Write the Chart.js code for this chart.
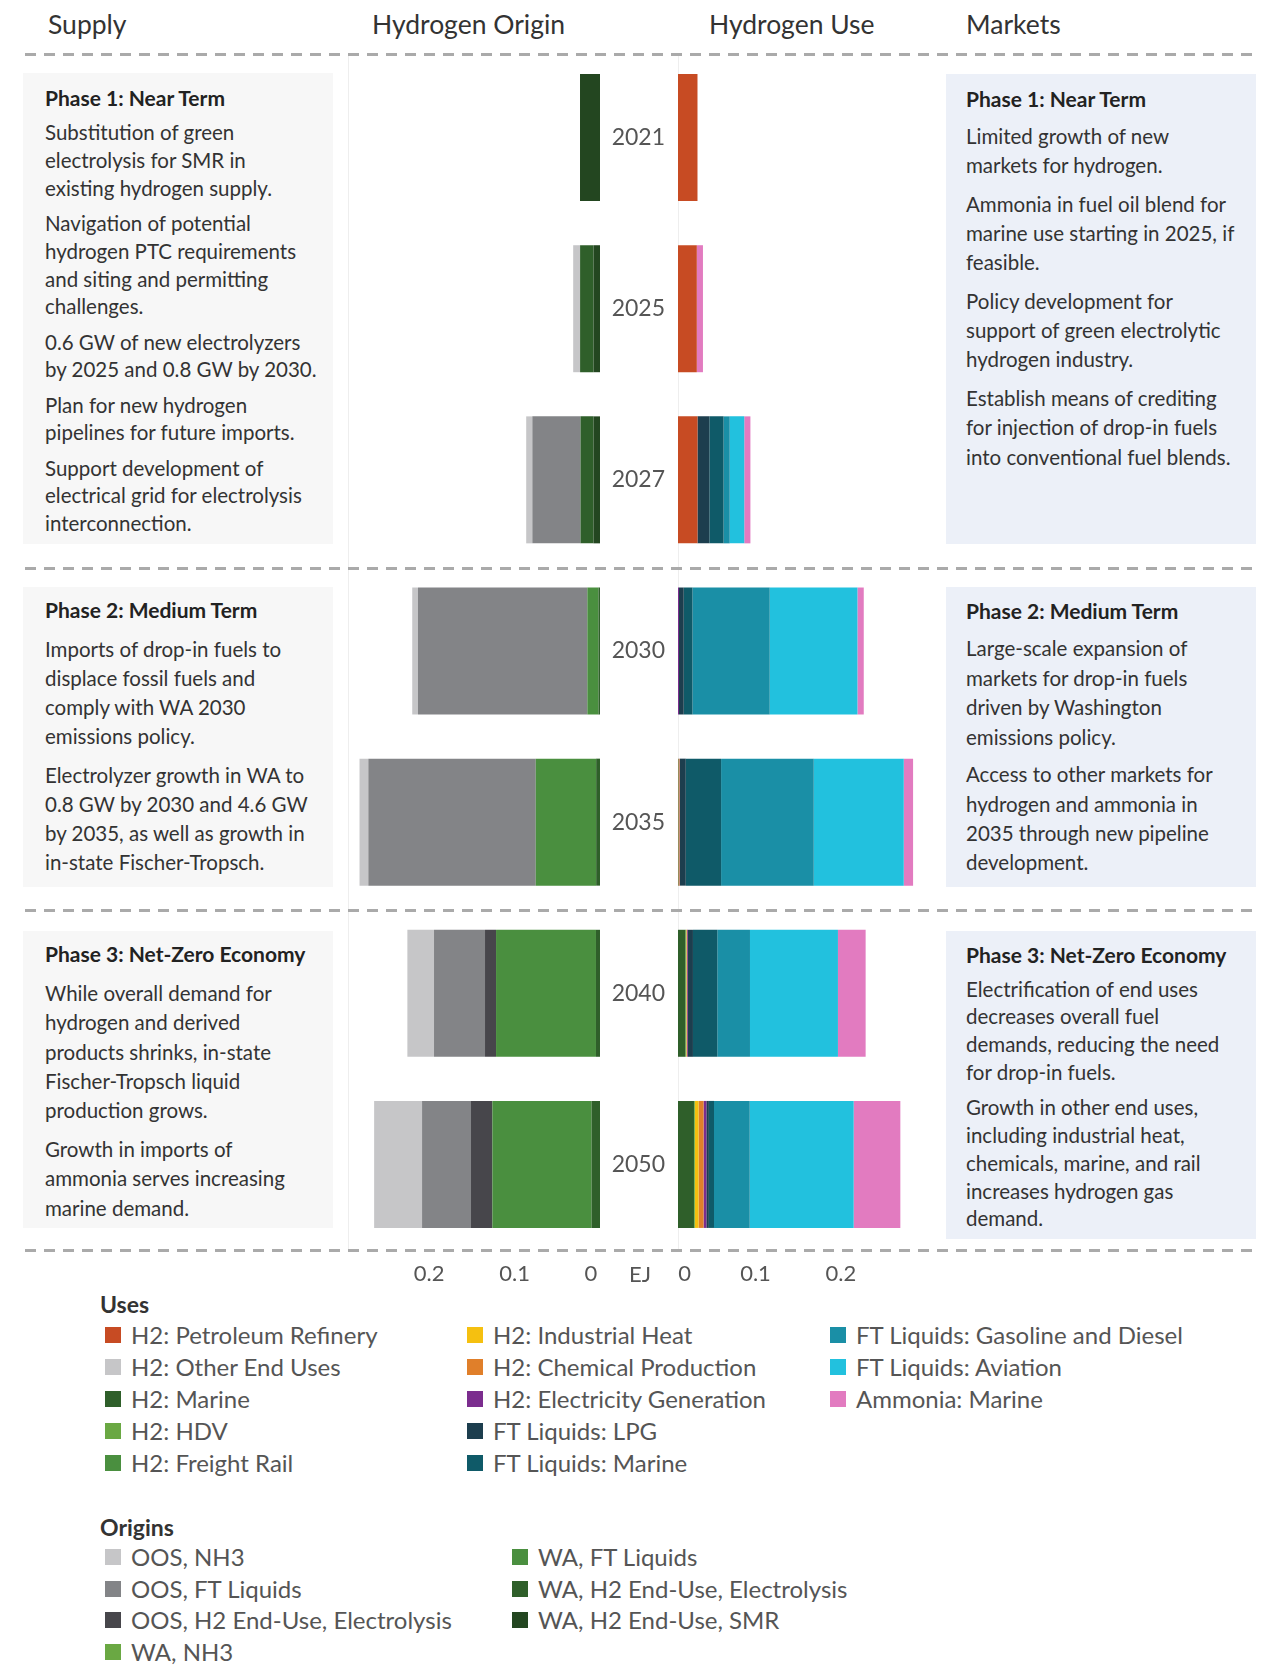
<!DOCTYPE html>
<html>
<head>
<meta charset="utf-8">
<title>Hydrogen Origin and Use</title>
<script src="https://cdn.jsdelivr.net/npm/chart.js@4.4.1/dist/chart.umd.min.js"></script>
<style>
  body { margin: 0; background: #fff; font-family: Lato, sans-serif; color: #333; }
  #page { position: relative; width: 1280px; height: 1679px; overflow: hidden; }
  .head { position: absolute; top: 6.5px; font-size: 26.5px; line-height: 34px; color: #333; white-space: nowrap; }
  .dash { position: absolute; left: 25px; width: 1228px; height: 3px;
          background: repeating-linear-gradient(90deg, #aaa 0 11px, transparent 11px 19px); }
  .vline { position: absolute; top: 53px; height: 1197px; width: 1px; background: #eeeeee; }
  .box { position: absolute; }
  .box.left { left: 23px; width: 310px; background: #f7f7f7; }
  .box.right { left: 946px; width: 310px; background: #ecf0f8; }
  .box h3 { position: absolute; left: 22px; margin: 0; font-size: 21px; line-height: 26px; font-weight: 700; color: #222; white-space: nowrap; }
  .box.right h3 { left: 20px; }
  .box .body { position: absolute; left: 22px; font-size: 20.5px; color: #333; white-space: nowrap; }
  .box.right .body { left: 20px; }
  .box p { margin: 0; }
  canvas { position: absolute; }
  #ej { position: absolute; left: 615px; width: 50px; top: 1261px; text-align: center; font-size: 22px; line-height: 26px; color: #555; }
  .ltitle { position: absolute; left: 100px; font-size: 23px; line-height: 26px; font-weight: 700; color: #333; }
  .item { position: absolute; font-size: 24px; line-height: 26px; color: #555; white-space: nowrap; }
  .item i { position: absolute; left: 0; top: 5px; width: 16px; height: 16px; }
  .item span { position: absolute; left: 26px; top: 0; }
</style>
</head>
<body>
<div id="page">
  <div class="head" style="left:48px">Supply</div>
  <div class="head" style="left:372px">Hydrogen Origin</div>
  <div class="head" style="left:709px">Hydrogen Use</div>
  <div class="head" style="left:966px">Markets</div>

  <div class="vline" style="left:348px"></div>
  <div class="vline" style="left:678px"></div>

  <!-- Supply -->
  <div class="box left" style="top:73px;height:471px">
    <h3 style="top:12px">Phase 1: Near Term</h3>
    <div class="body" style="top:46.2px;line-height:27.8px">
      <p>Substitution of green<br>electrolysis for SMR in<br>existing hydrogen supply.</p>
      <p style="margin-top:7.4px">Navigation of potential<br>hydrogen PTC requirements<br>and siting and permitting<br>challenges.</p>
      <p style="margin-top:7.4px">0.6 GW of new electrolyzers<br>by 2025 and 0.8 GW by 2030.</p>
      <p style="margin-top:7.4px">Plan for new hydrogen<br>pipelines for future imports.</p>
      <p style="margin-top:7.4px">Support development of<br>electrical grid for electrolysis<br>interconnection.</p>
    </div>
  </div>
  <div class="box left" style="top:587px;height:300px">
    <h3 style="top:10px">Phase 2: Medium Term</h3>
    <div class="body" style="top:47.5px;line-height:29.1px">
      <p>Imports of drop-in fuels to<br>displace fossil fuels and<br>comply with WA 2030<br>emissions policy.</p>
      <p style="margin-top:10px">Electrolyzer growth in WA to<br>0.8 GW by 2030 and 4.6 GW<br>by 2035, as well as growth in<br>in-state Fischer-Tropsch.</p>
    </div>
  </div>
  <div class="box left" style="top:930.5px;height:297.5px">
    <h3 style="top:10.5px">Phase 3: Net-Zero Economy</h3>
    <div class="body" style="top:48.5px;line-height:29.3px">
      <p>While overall demand for<br>hydrogen and derived<br>products shrinks, in-state<br>Fischer-Tropsch liquid<br>production grows.</p>
      <p style="margin-top:9.6px">Growth in imports of<br>ammonia serves increasing<br>marine demand.</p>
    </div>
  </div>

  <!-- Markets -->
  <div class="box right" style="top:74px;height:470px">
    <h3 style="top:12px">Phase 1: Near Term</h3>
    <div class="body" style="top:47.8px;line-height:29.2px">
      <p>Limited growth of new<br>markets for hydrogen.</p>
      <p style="margin-top:9.7px">Ammonia in fuel oil blend for<br>marine use starting in 2025, if<br>feasible.</p>
      <p style="margin-top:9.4px">Policy development for<br>support of green electrolytic<br>hydrogen industry.</p>
      <p style="margin-top:9.7px">Establish means of crediting<br>for injection of drop-in fuels<br>into conventional fuel blends.</p>
    </div>
  </div>
  <div class="box right" style="top:587px;height:300px">
    <h3 style="top:11px">Phase 2: Medium Term</h3>
    <div class="body" style="top:47.3px;line-height:29.4px">
      <p>Large-scale expansion of<br>markets for drop-in fuels<br>driven by Washington<br>emissions policy.</p>
      <p style="margin-top:8.2px">Access to other markets for<br>hydrogen and ammonia in<br>2035 through new pipeline<br>development.</p>
    </div>
  </div>
  <div class="box right" style="top:930.5px;height:308.5px">
    <h3 style="top:11.5px">Phase 3: Net-Zero Economy</h3>
    <div class="body" style="top:45px;line-height:27.8px">
      <p>Electrification of end uses<br>decreases overall fuel<br>demands, reducing the need<br>for drop-in fuels.</p>
      <p style="margin-top:7.6px">Growth in other end uses,<br>including industrial heat,<br>chemicals, marine, and rail<br>increases hydrogen gas<br>demand.</p>
    </div>
  </div>

  <div class="dash" style="top:52.5px"></div>
  <div class="dash" style="top:566.5px"></div>
  <div class="dash" style="top:909px"></div>
  <div class="dash" style="top:1248.5px"></div>

  <canvas id="originChart" width="292" height="1243" style="left:328px;top:52px"></canvas>
  <canvas id="useChart" width="365" height="1243" style="left:598px;top:52px"></canvas>
  <div id="ej">EJ</div>

  <div class="ltitle" style="top:1291px">Uses</div>
  <div id="useLegend"></div>
  <div class="ltitle" style="top:1514px">Origins</div>
  <div id="originLegend"></div>
</div>

<script>
const years = ['2021', '2025', '2027', '2030', '2035', '2040', '2050'];
const tickValues = [0, 0.1, 0.2];

// Hydrogen use by end use, EJ (one value per year)
const useNames = ['H2: Petroleum Refinery', 'H2: Other End Uses', 'H2: Marine', 'H2: HDV', 'H2: Freight Rail',
  'H2: Industrial Heat', 'H2: Chemical Production', 'H2: Electricity Generation', 'FT Liquids: LPG', 'FT Liquids: Marine',
  'FT Liquids: Gasoline and Diesel', 'FT Liquids: Aviation', 'Ammonia: Marine'];
const useColors = ['#c74b23', '#c6c6c8', '#2f5f2a', '#6aa843', '#4a8f3f', '#f5c010', '#e07f2a', '#7b2d8e',
  '#1d3e4e', '#0f5a68', '#1a8fa6', '#22c1de', '#e27bc0'];
const petroleumRefinery = [0.0228, 0.022, 0.0228, 0, 0, 0, 0];
const otherEndUses      = [0, 0, 0, 0, 0, 0, 0];
const h2Marine          = [0, 0, 0, 0, 0.0005, 0.0086, 0.0187];
const hdv               = [0, 0, 0, 0, 0, 0.0010, 0.0010];
const freightRail       = [0, 0, 0, 0, 0, 0, 0];
const industrialHeat    = [0, 0, 0, 0, 0, 0.0005, 0.0044];
const chemical          = [0, 0, 0, 0, 0.0012, 0.0006, 0.0058];
const electricity       = [0, 0, 0, 0.0012, 0.0004, 0.0010, 0.0033];
const ftLpg             = [0, 0, 0.0139, 0.0055, 0.0070, 0.0058, 0.0029];
const ftMarine          = [0, 0, 0.0166, 0.0102, 0.0413, 0.0285, 0.0060];
const ftGasDiesel       = [0, 0, 0.0072, 0.0904, 0.1084, 0.0382, 0.0418];
const ftAviation        = [0, 0, 0.0170, 0.1026, 0.1053, 0.1029, 0.1216];
const ammoniaMarine     = [0, 0.0072, 0.0072, 0.0074, 0.0109, 0.0324, 0.0546];
const useSeries = [petroleumRefinery, otherEndUses, h2Marine, hdv, freightRail, industrialHeat, chemical,
  electricity, ftLpg, ftMarine, ftGasDiesel, ftAviation, ammoniaMarine];

// Hydrogen origin, EJ
const originNames = ['OOS, NH3', 'OOS, FT Liquids', 'OOS, H2 End-Use, Electrolysis', 'WA, NH3',
  'WA, FT Liquids', 'WA, H2 End-Use, Electrolysis', 'WA, H2 End-Use, SMR'];
const originColors = ['#c6c6c8', '#838487', '#47464b', '#6aa843', '#4a8f3f', '#2f5f2a', '#234620'];
const oosNh3      = [0, 0.0081, 0.0072, 0.0067, 0.0103, 0.0312, 0.0561];
const oosFt       = [0, 0, 0.0564, 0.1983, 0.1960, 0.0597, 0.0573];
const oosElec     = [0, 0, 0, 0, 0, 0.0129, 0.0250];
const waNh3       = [0, 0, 0, 0, 0, 0, 0];
const waFt        = [0, 0, 0, 0.0130, 0.0707, 0.1170, 0.1162];
const waElec      = [0, 0.0157, 0.0152, 0.0018, 0.0045, 0.0047, 0.0098];
const waSmr       = [0.0234, 0.0076, 0.0076, 0, 0, 0, 0];
const originSeries = [oosNh3, oosFt, oosElec, waNh3, waFt, waElec, waSmr];

Chart.defaults.font.family = 'Lato, sans-serif';
Chart.defaults.color = '#555';

// x axis: ticks at 0, 0.1, 0.2 plus an unlabeled end tick; the zero label is kept inside the panel
function xScale(max, reverse, shift, zeroLabel) {
  return {
    type: 'linear',
    stacked: true,
    min: 0,
    max: max,
    reverse: reverse,
    grid: { display: false, drawTicks: false },
    border: { display: false },
    ticks: {
      font: { size: 22 }, color: '#555', padding: 11, align: 'inner', labelOffset: shift,
      callback: (v) => v === 0 ? zeroLabel : (tickValues.includes(v) ? String(v) : '')
    },
    afterBuildTicks: (axis) => { axis.ticks = tickValues.concat([max]).map(v => ({ value: v })); },
    afterFit: (axis) => { axis.height = 45; }
  };
}

function makeDatasets(names, colors, series) {
  return series.map((values, i) => ({
    label: names[i],
    data: values,
    backgroundColor: colors[i],
    borderWidth: 0,
    barPercentage: 0.742,
    categoryPercentage: 1
  }));
}

const baseOptions = {
  indexAxis: 'y',
  responsive: false,
  animation: false,
  plugins: { legend: { display: false }, tooltip: { enabled: false } }
};

// Origin: stacked outward from zero, reverse of legend order
new Chart(document.getElementById('originChart'), {
  type: 'bar',
  data: { labels: years, datasets: makeDatasets(originNames, originColors, originSeries).reverse() },
  options: {
    ...baseOptions,
    layout: { padding: { left: 20, right: 20, top: 0, bottom: 0 } },
    scales: {
      x: xScale(0.295, true, 0, '0\u2009'),
      y: { stacked: true, display: false }
    }
  }
});

new Chart(document.getElementById('useChart'), {
  type: 'bar',
  data: { labels: years, datasets: makeDatasets(useNames, useColors, useSeries) },
  options: {
    ...baseOptions,
    layout: { padding: { left: 0, right: 20, top: 0, bottom: 0 } },
    scales: {
      x: xScale(0.31, false, -8, '\u2009\u2009\u20090'),
      y: {
        stacked: true,
        grid: { display: false, drawTicks: false },
        border: { display: false },
        ticks: { font: { size: 23 }, color: '#555', padding: 13 },
        afterFit: (axis) => { axis.width = 80; axis.paddingTop = 0; axis.paddingBottom = 0; }
      }
    }
  }
});

// Legends
function buildLegend(el, names, colors, cols, rows, top, step) {
  names.forEach((name, i) => {
    const col = Math.floor(i / rows), row = i % rows;
    const d = document.createElement('div');
    d.className = 'item';
    d.style.left = cols[col] + 'px';
    d.style.top = (top + row * step - 13) + 'px';
    d.innerHTML = `<i style="background:${colors[i]}"></i><span>${name}</span>`;
    el.appendChild(d);
  });
}
buildLegend(document.getElementById('useLegend'), useNames, useColors, [105, 467, 830], 5, 1335, 31.9);
buildLegend(document.getElementById('originLegend'), originNames, originColors, [105, 512], 4, 1557, 31.7);
</script>
</body>
</html>
